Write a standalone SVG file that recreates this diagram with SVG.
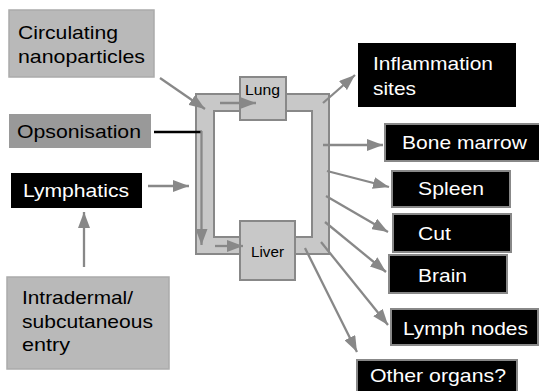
<svg xmlns="http://www.w3.org/2000/svg" width="539" height="391" viewBox="0 0 539 391">
<style>
text{font-family:"Liberation Sans",Arial,sans-serif;font-size:19px;}
.w{fill:#fff;}
.k{fill:#000;}
.blk{fill:#000;stroke:none;}
.blkb{fill:#000;stroke:#888;stroke-width:2;}
.lt{fill:#b9b9b9;stroke:#ababab;stroke-width:1.5;}
.op{fill:#999;stroke:none;}
.org{fill:#c8c8c8;stroke:#888;stroke-width:2;}
.sm{font-size:14px;}
.arr{stroke:#888;stroke-width:2.3;fill:none;marker-end:url(#ah);}
</style>
<defs>
<marker id="ah" markerUnits="userSpaceOnUse" markerWidth="16" markerHeight="12" refX="16" refY="6" orient="auto">
<path d="M0,0 L16,6 L0,12 z" fill="#888"/>
</marker>
</defs>
<g id="circulation">
<rect x="196" y="94" width="133" height="160" fill="#c8c8c8" stroke="#888" stroke-width="2"/>
<rect x="214" y="111" width="98" height="126" fill="#fff" stroke="#888" stroke-width="2"/>
</g>
<g id="lung"><rect class="org" x="240" y="77" width="46" height="43"/><text class="k sm" x="245" y="95" textLength="35" lengthAdjust="spacingAndGlyphs">Lung</text></g>
<g id="liver"><rect class="org" x="240" y="221" width="55" height="59"/><text class="k sm" x="251" y="257" textLength="33" lengthAdjust="spacingAndGlyphs">Liver</text></g>
<g id="circulating"><rect class="lt" x="9" y="10" width="145" height="67"/><text class="k" x="18" y="39" textLength="100" lengthAdjust="spacingAndGlyphs">Circulating</text><text class="k" x="18" y="63" textLength="127" lengthAdjust="spacingAndGlyphs">nanoparticles</text></g>
<g id="opsonisation"><rect class="op" x="9" y="114" width="142" height="34"/><text class="k" x="17" y="138" textLength="124" lengthAdjust="spacingAndGlyphs">Opsonisation</text></g>
<g id="lymphatics"><rect class="blk" x="11" y="173" width="131" height="35"/><text class="w" x="23" y="197" textLength="106" lengthAdjust="spacingAndGlyphs">Lymphatics</text></g>
<g id="intradermal"><rect class="lt" x="7" y="277" width="162" height="92" stroke="none"/><text class="k" x="22" y="304" textLength="111" lengthAdjust="spacingAndGlyphs">Intradermal/</text><text class="k" x="22" y="328" textLength="131" lengthAdjust="spacingAndGlyphs">subcutaneous</text><text class="k" x="22" y="351" textLength="48" lengthAdjust="spacingAndGlyphs">entry</text></g>
<g id="inflammation"><rect class="blk" x="358" y="43" width="158" height="64"/><text class="w" x="373" y="70" textLength="120" lengthAdjust="spacingAndGlyphs">Inflammation</text><text class="w" x="373" y="95" textLength="43" lengthAdjust="spacingAndGlyphs">sites</text></g>
<g id="bone-marrow"><rect class="blkb" x="385" y="124" width="160" height="37"/><text class="w" x="402" y="149" textLength="125" lengthAdjust="spacingAndGlyphs">Bone marrow</text></g>
<g id="spleen"><rect class="blkb" x="392" y="171" width="118" height="36"/><text class="w" x="418" y="195" textLength="66" lengthAdjust="spacingAndGlyphs">Spleen</text></g>
<g id="cut"><rect class="blkb" x="393" y="214" width="118" height="38"/><text class="w" x="418" y="240" textLength="33" lengthAdjust="spacingAndGlyphs">Cut</text></g>
<g id="brain"><rect class="blkb" x="389" y="255" width="118" height="38"/><text class="w" x="418" y="282" textLength="49" lengthAdjust="spacingAndGlyphs">Brain</text></g>
<g id="lymph-nodes"><rect class="blkb" x="391" y="309" width="147" height="36"/><text class="w" x="403" y="335" textLength="125" lengthAdjust="spacingAndGlyphs">Lymph nodes</text></g>
<g id="other-organs"><rect class="blkb" x="357" y="360" width="160" height="40"/><text class="w" x="370" y="382" textLength="136" lengthAdjust="spacingAndGlyphs">Other organs?</text></g>
<g id="connectors">
<line class="arr" x1="220" y1="103" x2="256" y2="103"/>
<line class="arr" x1="215" y1="246" x2="243" y2="246"/>
<line x1="154" y1="132" x2="202" y2="132" stroke="#000" stroke-width="2.3"/>
<line class="arr" x1="201.5" y1="131" x2="201.5" y2="245"/>
<line class="arr" x1="160" y1="78" x2="205" y2="109"/>
<line class="arr" x1="148" y1="186" x2="189" y2="186"/>
<line class="arr" x1="84" y1="267" x2="84" y2="212"/>
<line class="arr" x1="323" y1="103" x2="355" y2="75"/>
<line class="arr" x1="323" y1="145" x2="383" y2="145"/>
<line class="arr" x1="327" y1="171" x2="389" y2="187"/>
<line class="arr" x1="326" y1="196" x2="388" y2="232"/>
<line class="arr" x1="325" y1="222" x2="386" y2="272"/>
<line class="arr" x1="321" y1="242" x2="388" y2="325"/>
<line class="arr" x1="305" y1="248" x2="357" y2="352"/>
</g>
</svg>
